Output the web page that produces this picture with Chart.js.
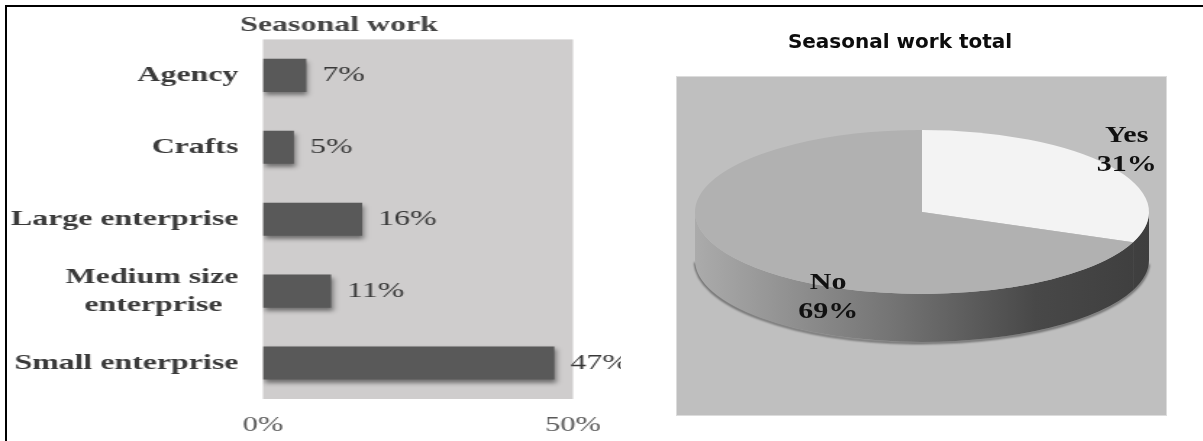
<!DOCTYPE html>
<html>
<head>
<meta charset="utf-8">
<title>Seasonal work</title>
<script src="https://cdn.jsdelivr.net/npm/chart.js@4.4.1/dist/chart.umd.min.js"></script>
<style>
  html, body { margin: 0; padding: 0; background: #fff; overflow: hidden; }
  body { width: 1203px; height: 441px; position: relative; }
  .frame { position: absolute; left: 5px; top: 5px; width: 1400px; height: 800px;
           border-top: 2px solid #000; border-left: 2px solid #000; }
  .bars { position: absolute; left: 0; top: 0; width: 621px; height: 441px; overflow: hidden; }
  #chartBar { position: absolute; left: 0; top: 0; }
  #chartPie { position: absolute; left: 600px; top: 0; }
</style>
</head>
<body>
<div class="frame"></div>
<div class="bars">
  <canvas id="chartBar" width="468" height="441" style="width:678px;height:441px"></canvas>
</div>
<canvas id="chartPie" width="600" height="441" style="width:600px;height:441px"></canvas>

<script>
// seasonal work by type of employer
const sectors = ['Agency', 'Crafts', 'Large enterprise', ['Medium size', 'enterprise  '], 'Small enterprise'];
const seasonalShare = [7, 5, 16, 11, 47];
const shareTicks = [0, 50];

// seasonal work total
const answers = ['Yes', 'No'];
const answerShare = [31, 69];
const answerColors = ['#f3f3f3', '#b1b1b1'];

// grey plot area behind the bars
const plotBackground = {
  id: 'plotBackground',
  beforeDraw(chart, args, opts) {
    const { ctx, chartArea: a } = chart;
    ctx.save();
    ctx.fillStyle = opts.color;
    ctx.fillRect(a.left, a.top, a.width, a.height);
    ctx.restore();
  }
};

// soft drop shadow under the bars
const barShadow = {
  id: 'barShadow',
  beforeDatasetDraw(chart) {
    const ctx = chart.ctx;
    ctx.save();
    ctx.shadowColor = 'rgba(0,0,0,0.45)';
    ctx.shadowBlur = 4;
    ctx.shadowOffsetX = 1;
    ctx.shadowOffsetY = 3;
  },
  afterDatasetDraw(chart) {
    chart.ctx.restore();
  }
};

// value labels at the end of each bar
const barValues = {
  id: 'barValues',
  afterDatasetsDraw(chart, args, opts) {
    const ctx = chart.ctx;
    const values = chart.data.datasets[0].data;
    ctx.save();
    ctx.font = opts.font;
    ctx.fillStyle = opts.color;
    ctx.textBaseline = 'middle';
    chart.getDatasetMeta(0).data.forEach((bar, i) => {
      ctx.fillText(values[i] + '%', bar.x + opts.gap, bar.y);
    });
    ctx.restore();
  }
};

new Chart(document.getElementById('chartBar'), {
  type: 'bar',
  data: {
    labels: sectors,
    datasets: [{
      data: seasonalShare,
      backgroundColor: '#595959',
      borderWidth: 0,
      barPercentage: 0.46,
      categoryPercentage: 1
    }]
  },
  options: {
    indexAxis: 'y',
    responsive: false,
    animation: false,
    layout: { padding: { left: 4, right: 4, top: 0, bottom: 0 } },
    plugins: {
      legend: { display: false },
      tooltip: { enabled: false },
      title: {
        display: true,
        text: 'Seasonal work',
        color: '#454545',
        font: { family: 'Liberation Serif', size: 22, weight: 'bold' },
        padding: { top: 12, bottom: 1 }
      },
      plotBackground: { color: '#cfcdcd' },
      barValues: { font: '22px "Liberation Serif"', color: '#383838', gap: 11 }
    },
    scales: {
      x: {
        min: 0,
        max: 50,
        grid: { display: false, drawTicks: false },
        border: { display: false },
        afterBuildTicks: (scale) => { scale.ticks = shareTicks.map(v => ({ value: v })); },
        afterFit: (scale) => { scale.height = 42; },
        ticks: {
          callback: (v) => v + '%',
          color: '#595959',
          font: { family: 'Liberation Serif', size: 21 },
          padding: 14,
          maxRotation: 0
        }
      },
      y: {
        grid: { display: false, drawTicks: false },
        border: { display: false },
        afterFit: (scale) => { scale.width = 177.5; },
        ticks: {
          color: '#3a3a3a',
          font: { family: 'Liberation Serif', size: 22, weight: 'bold', lineHeight: 1.25 },
          padding: 17
        }
      },
      // empty strip on the right, leaves room for the value labels
      yRight: {
        type: 'category',
        position: 'right',
        grid: { display: false, drawTicks: false },
        border: { display: false },
        ticks: { display: false },
        afterFit: (scale) => { scale.width = 68.5; }
      }
    }
  },
  plugins: [plotBackground, barShadow, barValues]
});

// grey panel behind the pie
const pieFrame = {
  id: 'pieFrame',
  beforeDraw(chart, args, opts) {
    const { ctx, chartArea: a } = chart;
    ctx.save();
    ctx.fillStyle = opts.color;
    ctx.fillRect(opts.left, a.top, opts.right - opts.left, a.bottom - a.top);
    ctx.strokeStyle = opts.edge;
    ctx.lineWidth = 1;
    ctx.strokeRect(opts.left - 0.5, a.top - 0.5, opts.right - opts.left + 1, a.bottom - a.top + 1);
    ctx.restore();
  }
};

// tilt the pie into an ellipse and give it a rim
const pie3d = {
  id: 'pie3d',
  beforeDatasetsDraw(chart, args, o) {
    const ctx = chart.ctx;
    const arcs = chart.getDatasetMeta(0).data;
    const { x, y, outerRadius: r } = arcs[0];
    const cx = x + o.shiftX;
    const cy = y + o.shiftY;
    const ry = r * o.tilt;

    ctx.save();
    ctx.filter = 'blur(1.2px)';
    ctx.strokeStyle = 'rgba(0,0,0,0.55)';
    ctx.lineWidth = 2;
    ctx.beginPath();
    ctx.ellipse(cx, cy + o.depth + 1, r, ry, 0, 0.04, Math.PI - 0.02);
    ctx.stroke();
    ctx.restore();

    const grad = ctx.createLinearGradient(cx - r, 0, cx + r, 0);
    o.sideStops.forEach(([t, c]) => grad.addColorStop(t, c));
    arcs.forEach(arc => {
      const a = Math.max(arc.startAngle, 0);
      const b = Math.min(arc.endAngle, Math.PI);
      if (b <= a) return;
      ctx.beginPath();
      ctx.ellipse(cx, cy, r, ry, 0, a, b);
      ctx.ellipse(cx, cy + o.depth, r, ry, 0, b, a, true);
      ctx.closePath();
      ctx.fillStyle = grad;
      ctx.fill();
    });

    ctx.save();
    ctx.translate(cx, cy);
    ctx.scale(1, o.tilt);
    ctx.translate(-x, -y);
  },
  afterDatasetsDraw(chart) {
    chart.ctx.restore();
  }
};

// "Yes 31%" style labels
const pieLabels = {
  id: 'pieLabels',
  afterDatasetsDraw(chart, args, o) {
    const ctx = chart.ctx;
    const p3 = chart.options.plugins.pie3d;
    const values = chart.data.datasets[0].data;
    ctx.save();
    ctx.font = o.font;
    ctx.fillStyle = o.color;
    ctx.textAlign = 'center';
    ctx.textBaseline = 'middle';
    chart.getDatasetMeta(0).data.forEach((arc, i) => {
      const mid = (arc.startAngle + arc.endAngle) / 2;
      const f = o.reach[i];
      const lx = arc.x + p3.shiftX + Math.cos(mid) * arc.outerRadius * f;
      const ly = arc.y + p3.shiftY + Math.sin(mid) * arc.outerRadius * p3.tilt * f + o.drop[i];
      const lines = [chart.data.labels[i], values[i] + '%'];
      ctx.save();
      ctx.translate(lx, ly);
      ctx.scale(o.stretch, 1);
      lines.forEach((t, j) => ctx.fillText(t, 0, (j - 0.5) * o.lineHeight));
      ctx.restore();
    });
    ctx.restore();
  }
};

new Chart(document.getElementById('chartPie'), {
  type: 'pie',
  data: {
    labels: answers,
    datasets: [{
      data: answerShare,
      backgroundColor: answerColors,
      borderWidth: 0,
      radius: 227
    }]
  },
  options: {
    responsive: false,
    animation: false,
    layout: { padding: { left: 0, right: 0, top: 0, bottom: 26 } },
    plugins: {
      legend: { display: false },
      tooltip: { enabled: false },
      title: {
        display: true,
        text: 'Seasonal work total',
        color: '#0d0d0d',
        font: { family: 'DejaVu Sans', size: 20, weight: 'bold' },
        padding: { top: 31, bottom: 22 }
      },
      pieFrame: { left: 77, right: 566, color: '#bfbfbf', edge: '#dcdcdc' },
      pie3d: {
        shiftX: 22,
        shiftY: -34,
        tilt: 0.361,
        depth: 48,
        sideStops: [[0, '#ababab'], [0.45, '#727272'], [0.75, '#484848'], [1, '#3e3e3e']]
      },
      pieLabels: {
        font: 'bold 24px "Liberation Serif"',
        color: '#111',
        stretch: 1.25,
        lineHeight: 29,
        reach: [1.09, 0.5],
        drop: [-11, 62]
      }
    }
  },
  plugins: [pieFrame, pie3d, pieLabels]
});
</script>
</body>
</html>
